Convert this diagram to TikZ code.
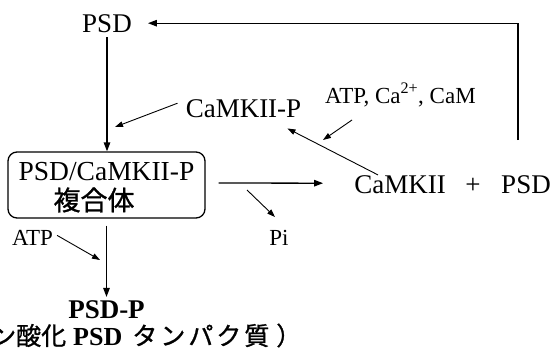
\documentclass[tikz,border=0pt]{standalone}
\usepackage{fontspec}
\setmainfont{Liberation Serif}
\newfontfamily\jp{Noto Sans CJK JP}[FakeBold=1]
\usetikzlibrary{arrows.meta}
\tikzset{
  lbl/.style={inner sep=0pt, anchor=base, font=\fontsize{27}{30}\selectfont},
  slbl/.style={inner sep=0pt, anchor=base, font=\fontsize{23}{26}\selectfont},
  arr/.style={line width=1.3pt, -{Triangle[length=9pt,width=6.5pt]}},
  sarr/.style={line width=0.9pt, -{Triangle[length=8pt,width=5.5pt]}},
  cbox/.style={draw, line width=1.3pt, rounded corners=9pt, minimum width=197pt, minimum height=66pt, inner sep=0pt},
}
\newcommand\ks{\kern3pt}
\begin{document}
\begin{tikzpicture}[x=1pt,y=1pt]
\useasboundingbox (0,0) rectangle (556,357);
% nodes
\node[lbl] (psdtop) at (107,324) {PSD};
\node[cbox] (box) at (106.5,172) {};
\node[lbl, font=\fontsize{27.5}{30}\selectfont] (boxl1) at (106.5,177) {PSD/CaMKII-P};
\node[inner sep=0pt, font=\fontsize{27}{28}\selectfont\jp] (boxl2) at (94,157) {複合体};
\node[lbl, font=\fontsize{27}{30}\selectfont\bfseries] (psdp) at (106.5,39) {PSD-P};
\node[inner sep=0pt, anchor=base west, font=\fontsize{25}{28}\selectfont\jp] (psdpj) at (-59,12) {（リン酸化\kern7pt{\rmfamily\bfseries\fontsize{26}{28}\selectfont PSD}\kern10pt タ\ks ン\ks パ\ks ク\ks 質\kern7pt ）};
\node[lbl] (camkiip) at (243.5,240) {CaMKII-P};
\node[slbl, anchor=base west] (atpca) at (325,254) {ATP, Ca\textsuperscript{2+}, CaM};
\node[lbl] (camkii) at (400,164) {CaMKII};
\node[lbl] (plus) at (473,164) {+};
\node[lbl] (psdr) at (526,164) {PSD};
\node[slbl] (atpl) at (32.5,112) {ATP};
\node[slbl] (pi) at (279,112) {Pi};
% coordinates
\coordinate (fb) at (518,217);
\coordinate (vjoin) at (115,230);
\coordinate (cjoin) at (323,217);
\coordinate (cjs) at (352,237);
\coordinate (dj) at (100,97);
\coordinate (pis) at (247,167);
\coordinate (pie) at (275,140);
% connectors
\draw[arr] (fb) |- ([xshift=16pt,yshift=1pt]psdtop.east);
\draw[arr] ([yshift=-4pt]psdtop.south) -- (box.north -| psdtop.south);
\draw[arr] ([yshift=-7pt]box.south) -- ([yshift=3pt]psdp.north);
\draw[sarr] ([xshift=-8pt,yshift=5pt]camkiip.west) -- (vjoin);
\draw[sarr] (cjs) -- (cjoin);
\draw[sarr] ([xshift=-22pt]camkii.north) -- ([xshift=-14pt,yshift=-11pt]camkiip.south east);
\draw[arr] ([xshift=13pt,yshift=2pt]box.east) -- ([xshift=-31pt,yshift=1pt]camkii.west);
\draw[sarr] (pis) -- (pie);
\draw[sarr] ([xshift=4pt,yshift=2pt]atpl.east) -- (dj);
\end{tikzpicture}
\end{document}
